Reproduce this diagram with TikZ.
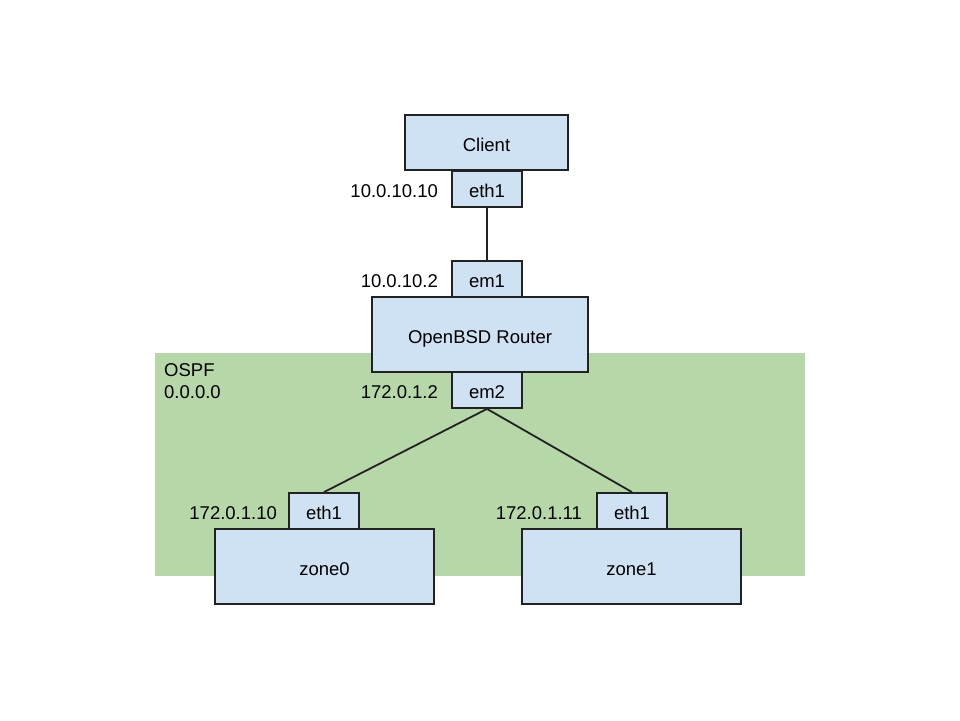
\documentclass[tikz,border=0pt]{standalone}
\usepackage{fontspec}
\setmainfont{Liberation Sans}
\usetikzlibrary{positioning}
\usetikzlibrary{backgrounds}

\definecolor{boxblue}{HTML}{CFE2F3}
\definecolor{areagreen}{HTML}{B6D7A8}
\definecolor{edgegray}{HTML}{222222}

\begin{document}
\begin{tikzpicture}[x=1pt, y=-1pt, font=\fontsize{18.5}{22}\selectfont, background rectangle/.style={fill=white}, show background rectangle]
\tikzset{host/.style={draw=edgegray,line width=1.8pt,fill=boxblue,inner sep=0,text height=17pt,text depth=0pt,minimum width=#1},
         iface/.style={draw=edgegray,line width=1.8pt,fill=boxblue,inner sep=0,text height=17pt,text depth=0pt,minimum width=70pt,minimum height=36pt},
         addr/.style={inner sep=0,anchor=east,text height=17pt,text depth=0pt},
         link/.style={draw=edgegray,line width=1.8pt}}
\useasboundingbox (0,0) rectangle (960,720);

% ospf area
\fill[areagreen] (155,353) rectangle (805,576);
\node[anchor=north west,align=left,inner sep=0] (area) at (164,363) {OSPF\\0.0.0.0};

% client
\node[host=163pt,minimum height=55pt] (client) at (486.5,142.5) {Client};
\node[iface] (clienteth) at (487,189) {eth1};
\node[addr,left=13pt of clienteth] (clientip) {10.0.10.10};

% router
\node[iface] (rem1) at (487,279) {em1};
\node[host=216pt,minimum height=75pt] (router) at (480,334.5) {OpenBSD Router};
\node[iface] (rem2) at (487,390) {em2};
\node[addr,left=13pt of rem1] (rem1ip) {10.0.10.2};
\node[addr,left=13pt of rem2] (rem2ip) {172.0.1.2};

% zones
\node[host=219pt,minimum height=75pt] (zoneA) at (324.5,566.5) {zone0};
\node[iface] (zoneAeth) at (324,511) {eth1};
\node[addr,left=11pt of zoneAeth] (zoneAip) {172.0.1.10};

\node[host=219pt,minimum height=75pt] (zoneB) at (631.5,566.5) {zone1};
\node[iface] (zoneBeth) at (632,511) {eth1};
\node[addr,left=14pt of zoneBeth] (zoneBip) {172.0.1.11};

% links
\draw[link] (clienteth.south) -- (rem1.north);
\draw[link] (rem2.south) -- (zoneAeth.north);
\draw[link] (rem2.south) -- (zoneBeth.north);

\end{tikzpicture}
\end{document}
